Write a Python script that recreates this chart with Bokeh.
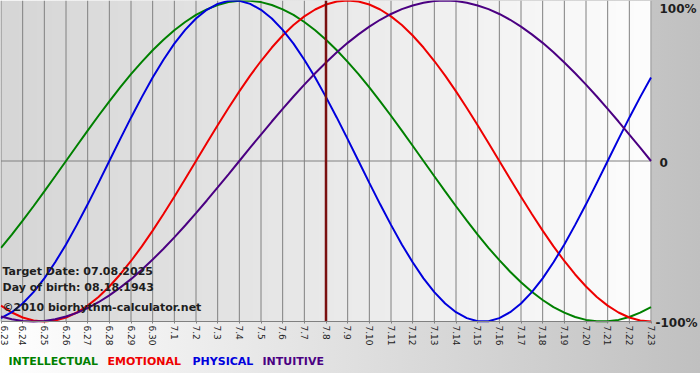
import numpy as np
from bokeh.plotting import figure
from bokeh.models import Range1d, FixedTicker, Label
from bokeh.embed import file_html
from bokeh.resources import INLINE

# ---- data ----
dates = ["6.23", "6.24", "6.25", "6.26", "6.27", "6.28", "6.29", "6.30",
         "7.1", "7.2", "7.3", "7.4", "7.5", "7.6", "7.7", "7.8", "7.9",
         "7.10", "7.11", "7.12", "7.13", "7.14", "7.15", "7.16", "7.17",
         "7.18", "7.19", "7.20", "7.21", "7.22", "7.23"]

# curve values read every half day (fraction of 100%)
intellectual = [-0.541, -0.458, -0.372, -0.282, -0.189, -0.095,
                0.0, 0.095, 0.189, 0.282, 0.372, 0.458, 0.541, 0.618, 0.690,
                0.756, 0.815, 0.866, 0.910, 0.945, 0.972, 0.990, 0.999, 0.999,
                0.990, 0.972, 0.945, 0.910, 0.866, 0.815, 0.756, 0.690, 0.618,
                0.541, 0.458, 0.372, 0.282, 0.189, 0.095, 0.0,
                -0.095, -0.189, -0.282, -0.372, -0.458, -0.541, -0.618, -0.690,
                -0.756, -0.815, -0.866, -0.910, -0.945, -0.972, -0.990, -0.999,
                -0.999, -0.990, -0.972, -0.945, -0.910]

emotional = [-0.901, -0.944, -0.975, -0.994, -1.0, -0.994, -0.975, -0.944,
             -0.901, -0.847, -0.782, -0.707, -0.623, -0.532, -0.434, -0.330,
             -0.223, -0.112,
             0.0, 0.112, 0.223, 0.330, 0.434, 0.532, 0.623, 0.707, 0.782,
             0.847, 0.901, 0.944, 0.975, 0.994, 1.0, 0.994, 0.975, 0.944,
             0.901, 0.847, 0.782, 0.707, 0.623, 0.532, 0.434, 0.330, 0.223,
             0.112, 0.0,
             -0.112, -0.223, -0.330, -0.434, -0.532, -0.623, -0.707, -0.782,
             -0.847, -0.901, -0.944, -0.975, -0.994, -1.0]

physical = [-0.979, -0.942, -0.888, -0.817, -0.731, -0.631, -0.520, -0.398,
            -0.270, -0.136,
            0.0, 0.136, 0.270, 0.398, 0.520, 0.631, 0.731, 0.817, 0.888,
            0.942, 0.979, 0.998, 0.998, 0.979, 0.942, 0.888, 0.817, 0.731,
            0.631, 0.520, 0.398, 0.270, 0.136, 0.0,
            -0.136, -0.270, -0.398, -0.520, -0.631, -0.731, -0.817, -0.888,
            -0.942, -0.979, -0.998, -0.998, -0.979, -0.942, -0.888, -0.817,
            -0.731, -0.631, -0.520, -0.398, -0.270, -0.136,
            0.0, 0.136, 0.270, 0.398, 0.520]

intuitive = [-0.969, -0.986, -0.997, -1.0, -0.997, -0.986, -0.969, -0.946,
             -0.916, -0.880, -0.837, -0.789, -0.736, -0.677, -0.614, -0.547,
             -0.476, -0.402, -0.325, -0.246, -0.165, -0.083,
             0.0, 0.083, 0.165, 0.246, 0.325, 0.402, 0.476, 0.547, 0.614,
             0.677, 0.736, 0.789, 0.837, 0.880, 0.916, 0.946, 0.969, 0.986,
             0.997, 1.0, 0.997, 0.986, 0.969, 0.946, 0.916, 0.880, 0.837,
             0.789, 0.736, 0.677, 0.614, 0.547, 0.476, 0.402, 0.325, 0.246,
             0.165, 0.083, 0.0]

series_names = ["INTELLECTUAL", "EMOTIONAL", "PHYSICAL", "INTUITIVE"]
target_index = 15          # 7.8
target_text = "Target Date: 07.08.2025"
birth_text = "Day of birth: 08.18.1943"
credit_text = "\u00a92010 biorhythm-calculator.net"
y_labels = ["100%", "0", "-100%"]

days = list(range(len(dates)))
sample_t = [i / 2 for i in range(len(physical))]

# ---- layout constants (pixels -> data) ----
W, H = 700, 380
PXX = 650.0 / 30.0           # px per day
PXY = 321.0 / 2.0            # px per unit value
X0 = -0.5 / PXX
X1 = X0 + W / PXX
Y1 = 1.0
Y0 = Y1 - H / PXY


def sx(px):
    return X0 + px / PXX


def sy(py):
    return Y1 - py / PXY


p = figure(width=W, height=H, output_backend="svg", toolbar_location=None,
           x_range=Range1d(X0, X1), y_range=Range1d(Y0, Y1),
           min_border=0, min_border_left=0, min_border_right=0,
           min_border_top=0, min_border_bottom=0,
           y_axis_location=None)
p.styles = {
    "background": "linear-gradient(to right, #ffffff, #c0c0c0) 0 0 / 100% 373px no-repeat, #ffffff",
}
p.border_fill_alpha = 0
p.background_fill_alpha = 0
p.outline_line_color = None
p.grid.visible = False

# plot-area gradient
n = 256
tt = np.linspace(0, 1, n)
g = (214 + (253 - 214) * tt).astype(np.uint32)
row = (255 << 24) | (g << 16) | (g << 8) | g
img = np.tile(row.astype(np.uint32), (2, 1))
p.image_rgba(image=[img], x=sx(0), y=-1, dw=sx(651) - sx(0), dh=2, level="image")

# grid lines
p.segment(x0=days, y0=[-1] * len(days), x1=days, y1=[1] * len(days),
          line_color="#808080", line_width=1)
p.segment(x0=[days[0]], y0=[0], x1=[days[-1]], y1=[0],
          line_color="#808080", line_width=1)

# x axis at the bottom of the plot area
ax = p.xaxis[0]
ax.fixed_location = -1
ax.bounds = (days[0], days[-1])
ax.ticker = FixedTicker(ticks=days)
ax.major_label_overrides = {i: d for i, d in enumerate(dates)}
ax.major_label_orientation = -np.pi / 2
ax.major_label_text_font = "DejaVu Sans"
ax.major_label_text_font_size = "9px"
ax.major_label_text_color = "#222222"
ax.major_label_standoff = 2
ax.axis_line_color = "#808080"
ax.major_tick_line_color = "#808080"
ax.major_tick_out = 2
ax.major_tick_in = 0
ax.minor_tick_line_color = None

colors = {"INTELLECTUAL": "#008000", "EMOTIONAL": "#ee0000",
          "PHYSICAL": "#0000dd", "INTUITIVE": "#4b0082"}
values = {"INTELLECTUAL": intellectual, "EMOTIONAL": emotional,
          "PHYSICAL": physical, "INTUITIVE": intuitive}
for name in series_names:
    p.line(sample_t, values[name], line_color=colors[name], line_width=2)

# target-date marker
p.segment(x0=[target_index], y0=[-1], x1=[target_index], y1=[1],
          line_color="#7a1010", line_width=2.5)

FONT = "DejaVu Sans"


def add_text(txt, px, py, color="#1e1e1e", size="11px"):
    p.add_layout(Label(x=sx(px), y=sy(py), text=txt, text_font=FONT,
                       text_font_style="bold", text_font_size=size,
                       text_color=color, text_baseline="middle",
                       text_align="left"))


add_text(target_text, 2, 271)
add_text(birth_text, 2, 287)
add_text(credit_text, 2, 307)

add_text(y_labels[0], 659, 8, size="12px")
add_text(y_labels[1], 659, 162, size="12px")
add_text(y_labels[2], 655, 322, size="12px")

legend_x = [8, 107, 192, 262]
for name, lx in zip(series_names, legend_x):
    add_text(name, lx, 361, color=colors[name])

open("out.html", "w").write(file_html(p, INLINE))
